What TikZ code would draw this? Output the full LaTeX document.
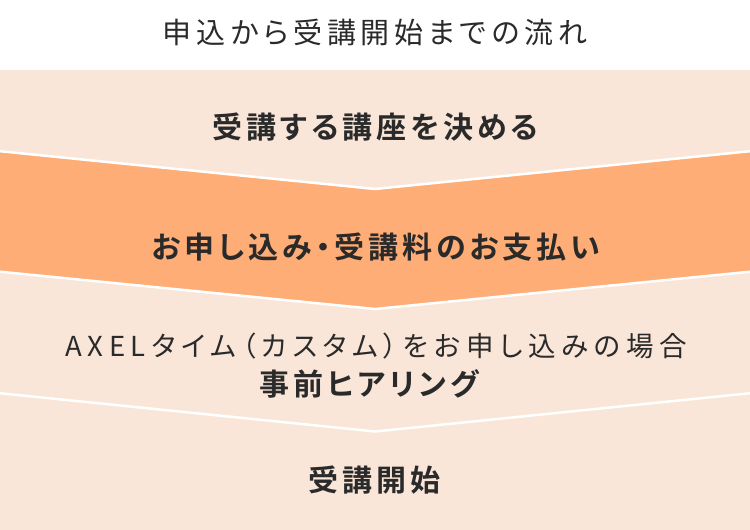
\documentclass[tikz,border=0pt]{standalone}
\usepackage{fontspec}
\setmainfont{Noto Sans CJK JP}
\newfontfamily\jpt{Noto Sans CJK JP}[LetterSpace=16.5,RawFeature=+palt]
\newfontfamily\jpr{Noto Sans CJK JP}[LetterSpace=20.5,RawFeature=+palt]
\newfontfamily\jpb{Noto Sans CJK JP Bold}[LetterSpace=13,RawFeature=+palt]
\definecolor{beige}{HTML}{F9E6D9}
\definecolor{peach}{HTML}{FFAD76}
\definecolor{ink}{HTML}{2A2A2A}
\tikzset{
  sepline/.style={draw=white, line width=2.5pt, line join=miter},
  titletext/.style={inner sep=0pt, text=ink, font=\jpt\fontsize{29}{34}\selectfont},
  steptext/.style={inner sep=0pt, text=ink, font=\jpb\fontsize{30}{34}\selectfont},
  subtext/.style={inner sep=0pt, text=ink, font=\jpr\fontsize{27.5}{32}\selectfont},
}
\begin{document}
\begin{tikzpicture}[x=1pt,y=-1pt]
\useasboundingbox (0,0) rectangle (750,530);
\fill[white] (0,0) rectangle (750,70);
\fill[beige] (0,70) rectangle (750,530);
\fill[peach] (0,151) -- (375,189) -- (750,151) -- (750,271.5) -- (375,309) -- (0,271.5) -- cycle;
\draw[sepline] (-2,151) -- (375,189) -- (752,151);
\draw[sepline] (-2,271.5) -- (375,309) -- (752,271.5);
\draw[sepline] (-2,393) -- (375,431.5) -- (752,393);
\node[titletext] (title) at (375,32.5) {申込から受講開始までの流れ};
\node[steptext] (s1) at (375.5,127.5) {受講する講座を決める};
\node[steptext] (s2) at (376,247.5) {お申し込み・受講料のお支払い};
\node[subtext] (s3a) at (376,346) {AXELタイム（カスタム）をお申し込みの場合};
\node[steptext] (s3b) at (369,383.5) {事前ヒアリング};
\node[steptext] (s4) at (374.5,480) {受講開始};
\end{tikzpicture}
\end{document}
